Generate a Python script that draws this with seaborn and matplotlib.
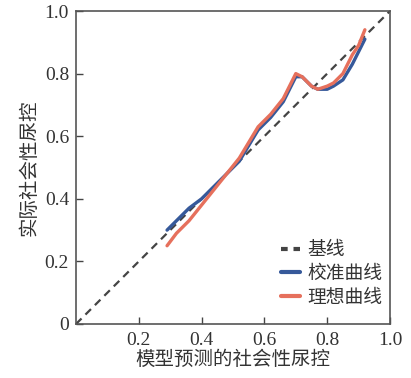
import matplotlib
matplotlib.use("Agg")
import matplotlib.pyplot as plt
import seaborn as sns
import pandas as pd

# ---- data ----
base_x = [0.0, 1.0]
base_y = [0.0, 1.0]

calib_x = [0.29, 0.30, 0.33, 0.36, 0.40, 0.44, 0.48, 0.52, 0.55, 0.58, 0.62, 0.66, 0.69, 0.70, 0.72, 0.75, 0.77, 0.80, 0.82, 0.85, 0.88, 0.92]
calib_y = [0.30, 0.31, 0.34, 0.37, 0.40, 0.44, 0.48, 0.52, 0.57, 0.62, 0.66, 0.71, 0.77, 0.79, 0.79, 0.76, 0.75, 0.75, 0.76, 0.78, 0.83, 0.91]

ideal_x = [0.29, 0.32, 0.36, 0.40, 0.44, 0.48, 0.52, 0.55, 0.58, 0.62, 0.66, 0.69, 0.70, 0.72, 0.75, 0.77, 0.80, 0.82, 0.85, 0.88, 0.90, 0.92]
ideal_y = [0.25, 0.29, 0.33, 0.38, 0.43, 0.48, 0.53, 0.58, 0.63, 0.67, 0.72, 0.78, 0.80, 0.79, 0.76, 0.75, 0.76, 0.77, 0.80, 0.86, 0.89, 0.94]

x_ticks = [0.2, 0.4, 0.6, 0.8, 1.0]
x_ticklabels = ["0.2", "0.4", "0.6", "0.8", "1.0"]
y_ticks = [0.0, 0.2, 0.4, 0.6, 0.8, 1.0]
y_ticklabels = ["0", "0.2", "0.4", "0.6", "0.8", "1.0"]

labels = ["基线", "校准曲线", "理想曲线"]
x_label = "模型预测的社会性尿控"
y_label = "实际社会性尿控"

sns.set_style("ticks")
plt.rcParams['font.family'] = ['Liberation Serif', 'Noto Sans CJK SC', 'DejaVu Sans']

fig = plt.figure(figsize=(4.11, 3.78), dpi=100)
ax = fig.add_axes([76/411, 54/378, 314/411, 313/378])

sns.lineplot(x=base_x, y=base_y, ax=ax, color="#444444", lw=1.6,
             linestyle=(0, (3.5, 2.5)), label=labels[0], sort=False)
sns.lineplot(x=calib_x, y=calib_y, ax=ax, color="#36599a", lw=2.4,
             label=labels[1], sort=False)
sns.lineplot(x=ideal_x, y=ideal_y, ax=ax, color="#e6705c", lw=2.4,
             label=labels[2], sort=False)

ax.set_xlim(0, 1)
ax.set_ylim(0, 1)
ax.set_xticks(x_ticks)
ax.set_xticklabels(x_ticklabels)
ax.set_yticks(y_ticks)
ax.set_yticklabels(y_ticklabels)
ax.tick_params(direction="in", length=5, width=1, colors="#444444",
               labelcolor="#333333", labelsize=14)
ax.tick_params(axis="x", pad=6)
ax.tick_params(axis="y", pad=5)
for s in ax.spines.values():
    s.set_color("#555555")
    s.set_linewidth(1.2)

ax.set_xlabel(x_label, fontsize=14, color="#333333",
              family=['Noto Sans CJK SC', 'DejaVu Sans'], labelpad=0)
ax.set_ylabel(y_label, fontsize=14, color="#333333",
              family=['Noto Sans CJK SC', 'DejaVu Sans'], labelpad=4)

leg = ax.legend(loc="lower right", frameon=False, handlelength=1.0,
                handletextpad=0.4, labelspacing=0.15, borderaxespad=0.0,
                bbox_to_anchor=(1.0, 0.028),
                prop={'family': ['Noto Sans CJK SC', 'DejaVu Sans'], 'size': 13.5})
for line in leg.get_lines():
    line.set_linewidth(3)
leg.get_lines()[0].set_dashes([1.6, 1.4])
for t in leg.get_texts():
    t.set_color("#333333")

fig.savefig("out.png", dpi=100)
